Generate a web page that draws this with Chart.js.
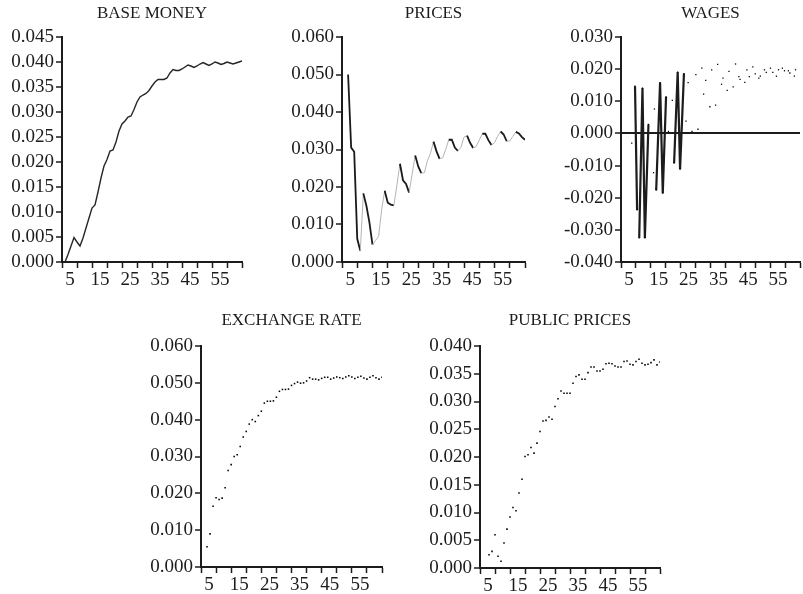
<!DOCTYPE html>
<html>
<head>
<meta charset="utf-8">
<script src="https://cdn.jsdelivr.net/npm/chart.js@4.4.1/dist/chart.umd.min.js"></script>
<style>
  html, body { margin: 0; padding: 0; background: #fff; width: 803px; height: 594px; overflow: hidden; }
  canvas { position: absolute; }
</style>
</head>
<body>
<canvas id="baseChart" width="250" height="290" style="left:0px;top:0px"></canvas>
<canvas id="pricesChart" width="253" height="290" style="left:280px;top:0px"></canvas>
<canvas id="wagesChart" width="245" height="290" style="left:559px;top:0px"></canvas>
<canvas id="exchangeChart" width="251" height="286" style="left:139px;top:309px"></canvas>
<canvas id="publicChart" width="250" height="287" style="left:418px;top:309px"></canvas>
<script>
// periods on the x axis
const periods = [
  1, 2, 3, 4, 5, 6, 7, 8, 9, 10,
  11, 12, 13, 14, 15, 16, 17, 18, 19, 20,
  21, 22, 23, 24, 25, 26, 27, 28, 29, 30,
  31, 32, 33, 34, 35, 36, 37, 38, 39, 40,
  41, 42, 43, 44, 45, 46, 47, 48, 49, 50,
  51, 52, 53, 54, 55, 56, 57, 58, 59, 60
];
const xTickLabels = [5, 15, 25, 35, 45, 55];

const baseMoney = [
  0.0000, 0.0015, 0.0032, 0.0049, 0.0040, 0.0032, 0.0048, 0.0068, 0.0088, 0.0108,
  0.0114, 0.0140, 0.0168, 0.0192, 0.0205, 0.0222, 0.0224, 0.0240, 0.0262, 0.0276,
  0.0282, 0.0290, 0.0292, 0.0305, 0.0320, 0.0330, 0.0334, 0.0337, 0.0343, 0.0352,
  0.0360, 0.0365, 0.0365, 0.0365, 0.0368, 0.0378, 0.0385, 0.0383, 0.0383, 0.0386,
  0.0390, 0.0394, 0.0392, 0.0389, 0.0392, 0.0396, 0.0399, 0.0396, 0.0393, 0.0396,
  0.0400, 0.0398, 0.0395, 0.0397, 0.0400, 0.0398, 0.0396, 0.0398, 0.0400, 0.0402
];

const prices = [
  null, 0.0500, 0.0305, 0.0294, 0.0062, 0.0030, 0.0183, 0.0150, 0.0105, 0.0046,
  0.0058, 0.0068, 0.0140, 0.0190, 0.0158, 0.0153, 0.0151, 0.0205, 0.0262, 0.0218,
  0.0208, 0.0185, 0.0235, 0.0284, 0.0255, 0.0237, 0.0238, 0.0270, 0.0290, 0.0321,
  0.0295, 0.0275, 0.0278, 0.0300, 0.0326, 0.0326, 0.0305, 0.0296, 0.0306, 0.0333,
  0.0337, 0.0318, 0.0304, 0.0308, 0.0325, 0.0342, 0.0342, 0.0325, 0.0312, 0.0318,
  0.0335, 0.0348, 0.0340, 0.0322, 0.0323, 0.0335, 0.0347, 0.0343, 0.0333, 0.0326
];

// wages: positions (irregular)
const wagesX = [
  3.6, 4.7, 5.4, 6.1, 7.2, 8.0, 9.2, 10.9, 11.2, 11.8,
  13.1, 14.0, 15.1, 15.9, 17.2, 17.8, 19.0, 19.8, 21.1, 21.8,
  22.5, 23.8, 25.1, 25.8, 27.1, 27.7, 28.4, 29.8, 30.4, 31.7,
  32.4, 33.7, 34.2, 35.6, 36.2, 37.6, 38.4, 39.5, 39.9, 41.5,
  42.2, 43.0, 44.2, 45.0, 46.2, 46.7, 48.1, 48.7, 50.1, 50.9,
  52.1, 52.8, 54.1, 54.8, 56.1, 56.6, 58.1, 58.5
];
const wagesY = [
  -0.0030, 0.0147, -0.0238, -0.0325, 0.0141, -0.0325, 0.0028, -0.0122, 0.0076, -0.0176,
  0.0158, -0.0186, 0.0114, 0.0006, 0.0103, -0.0092, 0.0191, -0.0111, 0.0186, 0.0038,
  0.0158, 0.0006, 0.0183, 0.0013, 0.0203, 0.0122, 0.0165, 0.0083, 0.0198, 0.0088,
  0.0215, 0.0153, 0.0172, 0.0134, 0.0193, 0.0145, 0.0216, 0.0177, 0.0168, 0.0159,
  0.0198, 0.0177, 0.0207, 0.0185, 0.0172, 0.0178, 0.0198, 0.0190, 0.0203, 0.0190,
  0.0178, 0.0198, 0.0203, 0.0195, 0.0195, 0.0188, 0.0178, 0.0198
];

const exchangeRate = [
  null, 0.0055, 0.0090, 0.0165, 0.0188, 0.0183, 0.0187, 0.0215, 0.0262, 0.0278,
  0.0300, 0.0305, 0.0327, 0.0353, 0.0368, 0.0388, 0.0400, 0.0395, 0.0411, 0.0423,
  0.0445, 0.0450, 0.0450, 0.0451, 0.0461, 0.0477, 0.0482, 0.0482, 0.0483, 0.0493,
  0.0498, 0.0502, 0.0499, 0.0500, 0.0505, 0.0514, 0.0510, 0.0510, 0.0508, 0.0512,
  0.0515, 0.0515, 0.0510, 0.0513, 0.0516, 0.0514, 0.0512, 0.0516, 0.0519, 0.0516,
  0.0512, 0.0515, 0.0518, 0.0513, 0.0510, 0.0515, 0.0519, 0.0514, 0.0510, 0.0515
];

const publicPrices = [
  null, null, 0.0024, 0.0030, 0.0060, 0.0021, 0.0012, 0.0045, 0.0070, 0.0092,
  0.0109, 0.0103, 0.0135, 0.0160, 0.0201, 0.0204, 0.0217, 0.0207, 0.0225, 0.0246,
  0.0265, 0.0266, 0.0272, 0.0268, 0.0291, 0.0305, 0.0319, 0.0315, 0.0315, 0.0315,
  0.0333, 0.0345, 0.0348, 0.0340, 0.0340, 0.0352, 0.0362, 0.0362, 0.0355, 0.0355,
  0.0358, 0.0368, 0.0369, 0.0368, 0.0364, 0.0362, 0.0362, 0.0372, 0.0373, 0.0367,
  0.0366, 0.0372, 0.0376, 0.0369, 0.0366, 0.0367, 0.0370, 0.0375, 0.0366, 0.0371
];

const ink = "#1c1c1c";
const tickFont = { family: "Liberation Serif", size: 19 };

// stretches of the wages series that are joined by a line
const wagesRuns = [[4.7, 5.4], [6.1, 9.2], [11.8, 15.1], [17.8, 21.1]];

function pts(xs, ys) {
  return xs.map((x, i) => ({ x: x, y: ys[i] }));
}

// panel title centred over the plot area, not the whole canvas
const plotTitle = {
  id: "plotTitle",
  afterDraw(chart, args, opts) {
    const c = chart.ctx, a = chart.chartArea;
    c.save();
    c.font = "17px 'Liberation Serif'";
    c.fillStyle = ink;
    c.textAlign = "center";
    c.textBaseline = "middle";
    c.fillText(opts.text, (a.left + a.right) / 2, opts.y);
    c.restore();
  }
};

function makeChart(id, title, titleY, yMin, yMax, yStep, datasets, zeroLine) {
  return new Chart(document.getElementById(id), {
    type: "line",
    data: { datasets: datasets },
    plugins: [plotTitle],
    options: {
      responsive: false,
      animation: false,
      devicePixelRatio: 1,
      layout: { padding: { left: 0, right: id === "wagesChart" ? 0 : 8, top: 37, bottom: 0 } },
      plugins: {
        legend: { display: false },
        tooltip: { enabled: false },
        plotTitle: { text: title, y: titleY }
      },
      scales: {
        x: {
          type: "linear",
          min: 0,
          max: 60,
          border: { color: ink, width: 2 },
          grid: { drawOnChartArea: false, tickColor: ink, tickLength: 6, tickWidth: 1.5 },
          ticks: {
            stepSize: 5,
            autoSkip: false,
            maxRotation: 0,
            padding: 1,
            labelOffset: -7,
            color: ink,
            font: tickFont,
            callback: v => xTickLabels.includes(v) ? String(v) : ""
          },
          afterFit: s => { s.height = 28; }
        },
        y: {
          min: yMin,
          max: yMax,
          border: { color: ink, width: 2 },
          grid: {
            drawOnChartArea: !!zeroLine,
            color: ctx => (zeroLine && ctx.tick && Math.abs(ctx.tick.value) < 1e-9) ? ink : "rgba(0,0,0,0)",
            lineWidth: 2,
            tickColor: ink,
            tickLength: 6,
            tickWidth: 1.5
          },
          ticks: {
            stepSize: yStep,
            autoSkip: false,
            padding: 2,
            color: ink,
            font: tickFont,
            callback: v => v.toFixed(3)
          },
          afterFit: s => { s.width = 62; }
        }
      }
    }
  });
}

makeChart("baseChart", "BASE MONEY", 14, 0, 0.045, 0.005, [{
  data: pts(periods, baseMoney),
  borderColor: "#262626",
  borderWidth: 1.4,
  pointRadius: 0,
  tension: 0
}]);

makeChart("pricesChart", "PRICES", 14, 0, 0.06, 0.01, [{
  data: pts(periods, prices),
  borderColor: "#262626",
  borderWidth: 1.5,
  pointRadius: 0,
  tension: 0,
  segment: {
    borderColor: ctx => ctx.p1.parsed.y > ctx.p0.parsed.y ? "#b4b4b4" : "#1a1a1a",
    borderWidth: ctx => ctx.p1.parsed.y > ctx.p0.parsed.y ? 1 : 1.8
  }
}]);

makeChart("wagesChart", "WAGES", 14, -0.04, 0.03, 0.01, [{
  data: pts(wagesX, wagesY),
  borderColor: ink,
  borderWidth: 2.2,
  pointRadius: 0.9,
  pointStyle: "rect",
  pointBackgroundColor: "#000",
  pointBorderWidth: 0,
  tension: 0,
  segment: {
    borderColor: ctx => wagesRuns.some(r => ctx.p0.parsed.x >= r[0] - 0.01 && ctx.p1.parsed.x <= r[1] + 0.01)
      ? ink : "rgba(0,0,0,0)"
  }
}], true);

const dotStyle = {
  showLine: false,
  pointRadius: 1.1,
  pointStyle: "rect",
  pointBackgroundColor: "#000",
  pointBorderWidth: 0
};

makeChart("exchangeChart", "EXCHANGE RATE", 12, 0, 0.06, 0.01, [
  Object.assign({ data: pts(periods, exchangeRate) }, dotStyle)
]);

makeChart("publicChart", "PUBLIC PRICES", 12, 0, 0.04, 0.005, [
  Object.assign({ data: pts(periods, publicPrices) }, dotStyle)
]);
</script>
</body>
</html>
